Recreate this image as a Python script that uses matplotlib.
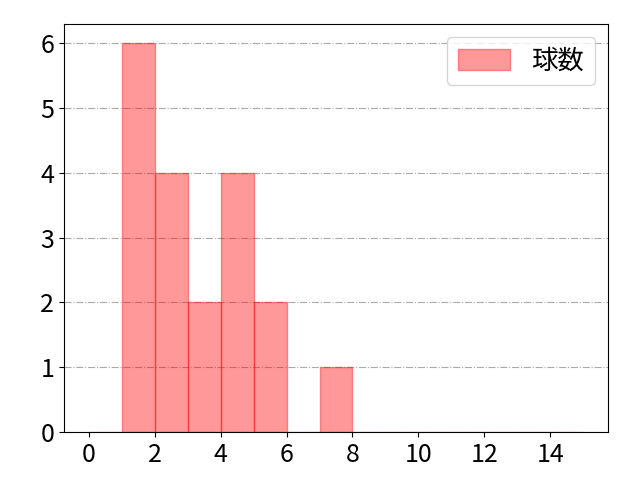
import matplotlib.pyplot as plt
import numpy as np

plt.rcParams['font.family'] = ['Noto Sans CJK JP', 'DejaVu Sans']
plt.rcParams['font.size'] = 18

# pitch counts per bin (bins of width 1 from 0 to 15)
bin_edges = np.arange(0, 16)
counts = [0, 6, 4, 2, 4, 2, 0, 1, 0, 0, 0, 0, 0, 0, 0]
label = "球数"

fig, ax = plt.subplots(figsize=(6.4, 4.8), dpi=100)
fig.subplots_adjust(left=0.1, right=0.95, bottom=0.1, top=0.95)
ax.hist(bin_edges[:-1], bins=bin_edges, weights=counts,
        color="red", alpha=0.4, edgecolor="red", label=label)

ax.set_xticks(np.arange(0, 16, 2))
ax.set_yticks(np.arange(0, 7, 1))
ax.grid(axis="y", linestyle="-.", color="#aaaaaa", linewidth=0.8)
ax.set_axisbelow(True)
ax.legend(loc="upper right", fontsize=19, handleheight=0.8)

fig.savefig("out.png")
